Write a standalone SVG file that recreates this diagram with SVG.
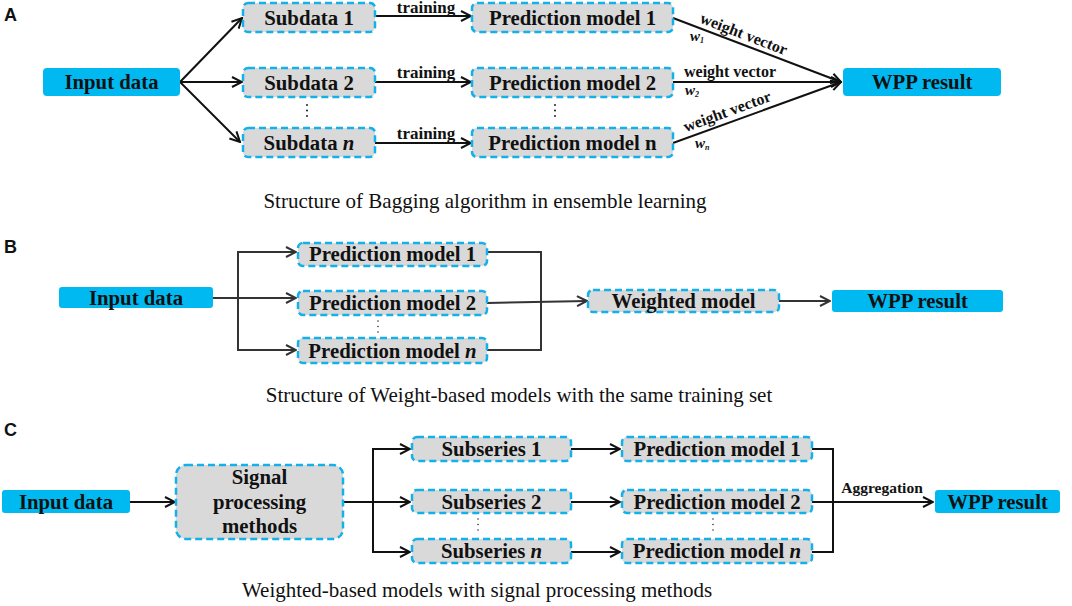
<svg xmlns="http://www.w3.org/2000/svg" width="1072" height="606" viewBox="0 0 1072 606">
<defs>
<style>
.bg{fill:#ffffff}
.blue{fill:#00B9F1}
.dash{fill:#D9D9D9;stroke:#12B1EA;stroke-width:2.5;stroke-dasharray:7 4}
.t{font-family:"Liberation Serif","Times New Roman",serif;font-weight:bold;font-size:20.8px;fill:#111;text-anchor:middle}
.lab{font-family:"Liberation Serif","Times New Roman",serif;font-weight:bold;font-size:16px;fill:#111;text-anchor:middle}
.w{font-family:"Liberation Serif","Times New Roman",serif;font-weight:bold;font-style:italic;font-size:15px;fill:#111}
.cap{font-family:"Liberation Serif","Times New Roman",serif;font-size:21px;fill:#111;text-anchor:middle}
.pl{font-family:"Liberation Sans",Arial,sans-serif;font-weight:bold;font-size:18px;fill:#111}
.ln{fill:none;stroke:#111;stroke-width:2}
.lnb{fill:none;stroke:#333;stroke-width:2}
.dot{fill:#333}
</style>
<marker id="ah" viewBox="0 0 12 12" refX="11" refY="6" markerWidth="12" markerHeight="12" markerUnits="userSpaceOnUse" orient="auto">
<path d="M1,1 L11,6 L1,11" fill="none" stroke="#111" stroke-width="2"/>
</marker>
<marker id="ahb" viewBox="0 0 12 12" refX="11" refY="6" markerWidth="12" markerHeight="12" markerUnits="userSpaceOnUse" orient="auto">
<path d="M1,1 L11,6 L1,11" fill="none" stroke="#333" stroke-width="2"/>
</marker>
</defs>
<rect class="bg" width="1072" height="606"/>

<!-- Panel labels -->
<text class="pl" x="4" y="21">A</text>
<text class="pl" x="4" y="253">B</text>
<text class="pl" x="4" y="436">C</text>

<!-- ===== Panel A ===== -->
<g id="connectors-a">
<line class="ln" x1="180" y1="82" x2="242" y2="18" marker-end="url(#ah)"/>
<line class="ln" x1="180" y1="82" x2="242" y2="82" marker-end="url(#ah)"/>
<line class="ln" x1="180" y1="82" x2="240" y2="142" marker-end="url(#ah)"/>
<line class="ln" x1="375" y1="16" x2="471" y2="16" marker-end="url(#ah)"/>
<line class="ln" x1="375" y1="82" x2="471" y2="82" marker-end="url(#ah)"/>
<line class="ln" x1="375" y1="143" x2="471" y2="143" marker-end="url(#ah)"/>
<line class="ln" x1="673" y1="18" x2="841" y2="82" marker-end="url(#ah)"/>
<line class="ln" x1="673" y1="82" x2="841" y2="82" marker-end="url(#ah)"/>
<line class="ln" x1="673" y1="143" x2="841" y2="82" marker-end="url(#ah)"/>
<text class="lab" x="426" y="13" style="font-size:17px">training</text>
<text class="lab" x="426" y="78" style="font-size:17px">training</text>
<text class="lab" x="426" y="139" style="font-size:17px">training</text>
<text class="lab" transform="rotate(21 740 43.7)" x="740" y="38.5">weight vector</text>
<text class="lab" x="730" y="77">weight vector</text>
<text class="lab" transform="rotate(-20.1 731 122)" x="731" y="116">weight vector</text>
<text class="w" x="690" y="41">w<tspan font-size="8" dy="2">1</tspan></text>
<text class="w" x="685" y="95">w<tspan font-size="8" dy="2">2</tspan></text>
<text class="w" x="695" y="148">w<tspan font-size="8" dy="2">n</tspan></text>
</g>

<g id="a-input"><rect class="blue" x="43" y="68" width="137" height="28" rx="4"/><text class="t" x="111.5" y="89">Input data</text></g>
<g id="a-sub1"><rect class="dash" x="243" y="3" width="132" height="29" rx="5"/><text class="t" x="309" y="24.5">Subdata 1</text></g>
<g id="a-sub2"><rect class="dash" x="243" y="68" width="132" height="29" rx="5"/><text class="t" x="309" y="89.5">Subdata 2</text></g>
<g id="a-subn"><rect class="dash" x="243" y="128" width="132" height="29" rx="5"/><text class="t" x="309" y="149.5">Subdata <tspan font-style="italic">n</tspan></text></g>
<g id="a-dots1"><circle class="dot" cx="307" cy="105" r="1.1"/><circle class="dot" cx="307" cy="110.5" r="1.1"/><circle class="dot" cx="307" cy="116" r="1.1"/></g>
<g id="a-pm1"><rect class="dash" x="472" y="3" width="201" height="29" rx="5"/><text class="t" x="572.5" y="24.5">Prediction model 1</text></g>
<g id="a-pm2"><rect class="dash" x="472" y="68" width="201" height="29" rx="5"/><text class="t" x="572.5" y="89.5">Prediction model 2</text></g>
<g id="a-pmn"><rect class="dash" x="472" y="128" width="201" height="29" rx="5"/><text class="t" x="572.5" y="149.5">Prediction model n</text></g>
<g id="a-dots2"><circle class="dot" cx="555" cy="105" r="1.1"/><circle class="dot" cx="555" cy="110.5" r="1.1"/><circle class="dot" cx="555" cy="116" r="1.1"/></g>
<g id="a-wpp"><rect class="blue" x="843" y="68" width="158" height="28" rx="4"/><text class="t" x="922" y="89">WPP result</text></g>
<text class="cap" x="485" y="208">Structure of Bagging algorithm in ensemble learning</text>

<!-- ===== Panel B ===== -->
<g id="connectors-b">
<line class="lnb" x1="213" y1="298" x2="296" y2="298" marker-end="url(#ahb)"/>
<polyline class="lnb" points="296,252 238,252 238,350 296,350"/>
<line class="lnb" x1="286" y1="252" x2="296" y2="252" marker-end="url(#ahb)"/>
<line class="lnb" x1="286" y1="350" x2="296" y2="350" marker-end="url(#ahb)"/>
<polyline class="lnb" points="487,252 541,252 541,350 487,350"/>
<line class="lnb" x1="487" y1="303" x2="587" y2="301" marker-end="url(#ahb)"/>
<line class="lnb" x1="779" y1="301" x2="830" y2="301" marker-end="url(#ahb)"/>
</g>
<g id="b-input"><rect class="blue" x="59" y="287" width="154" height="21" rx="3"/><text class="t" x="136" y="304.5">Input data</text></g>
<g id="b-pm1"><rect class="dash" x="298" y="243" width="189" height="23" rx="5"/><text class="t" x="392.5" y="261">Prediction model 1</text></g>
<g id="b-pm2"><rect class="dash" x="298" y="291" width="189" height="24" rx="5"/><text class="t" x="392.5" y="310">Prediction model 2</text></g>
<g id="b-pmn"><rect class="dash" x="298" y="338" width="189" height="25" rx="5"/><text class="t" x="392.5" y="357.5">Prediction model <tspan font-style="italic">n</tspan></text></g>
<g id="b-dots"><circle class="dot" cx="378" cy="321" r="0.8"/><circle class="dot" cx="378" cy="326.5" r="0.8"/><circle class="dot" cx="378" cy="332" r="0.8"/></g>
<g id="b-weighted"><rect class="dash" x="588" y="290" width="191" height="22" rx="5"/><text class="t" x="683.5" y="308">Weighted model</text></g>
<g id="b-wpp"><rect class="blue" x="832" y="290" width="171" height="22" rx="3"/><text class="t" x="917.5" y="308">WPP result</text></g>
<text class="cap" x="519" y="402">Structure of Weight-based models with the same training set</text>

<!-- ===== Panel C ===== -->
<g id="connectors-c">
<line class="ln" x1="130" y1="502" x2="175" y2="502" marker-end="url(#ah)"/>
<line class="ln" x1="343" y1="502" x2="410" y2="502" marker-end="url(#ah)"/>
<polyline class="ln" points="410,449 373,449 373,552 410,552"/>
<line class="ln" x1="400" y1="449" x2="410" y2="449" marker-end="url(#ah)"/>
<line class="ln" x1="400" y1="552" x2="410" y2="552" marker-end="url(#ah)"/>
<line class="ln" x1="571" y1="449" x2="620" y2="449" marker-end="url(#ah)"/>
<line class="ln" x1="571" y1="502" x2="620" y2="502" marker-end="url(#ah)"/>
<line class="ln" x1="571" y1="552" x2="620" y2="552" marker-end="url(#ah)"/>
<polyline class="ln" points="812,449 833,449 833,552 812,552"/>
<line class="ln" x1="812" y1="502" x2="933" y2="502" marker-end="url(#ah)"/>
<text class="lab" x="882" y="493" style="font-size:15.5px">Aggregation</text>
</g>
<g id="c-input"><rect class="blue" x="2" y="490" width="128" height="23" rx="3"/><text class="t" x="66" y="509">Input data</text></g>
<g id="c-signal"><rect class="dash" x="176" y="465" width="167" height="74" rx="10"/><text class="t" x="259.5" y="484">Signal</text><text class="t" x="259.5" y="509">processing</text><text class="t" x="259.5" y="533">methods</text></g>
<g id="c-sub1"><rect class="dash" x="412" y="437" width="159" height="24" rx="5"/><text class="t" x="491.5" y="456">Subseries 1</text></g>
<g id="c-sub2"><rect class="dash" x="412" y="490" width="159" height="23" rx="5"/><text class="t" x="491.5" y="509">Subseries 2</text></g>
<g id="c-subn"><rect class="dash" x="412" y="539" width="159" height="24" rx="5"/><text class="t" x="491.5" y="558">Subseries <tspan font-style="italic">n</tspan></text></g>
<g id="c-dots1"><circle class="dot" cx="478" cy="519" r="0.8"/><circle class="dot" cx="478" cy="524.5" r="0.8"/><circle class="dot" cx="478" cy="530" r="0.8"/></g>
<g id="c-pm1"><rect class="dash" x="622" y="437" width="190" height="24" rx="5"/><text class="t" x="717" y="456">Prediction model 1</text></g>
<g id="c-pm2"><rect class="dash" x="622" y="490" width="190" height="23" rx="5"/><text class="t" x="717" y="509">Prediction model 2</text></g>
<g id="c-pmn"><rect class="dash" x="622" y="539" width="190" height="24" rx="5"/><text class="t" x="717" y="558">Prediction model <tspan font-style="italic">n</tspan></text></g>
<g id="c-dots2"><circle class="dot" cx="713" cy="519" r="0.8"/><circle class="dot" cx="713" cy="524.5" r="0.8"/><circle class="dot" cx="713" cy="530" r="0.8"/></g>
<g id="c-wpp"><rect class="blue" x="935" y="490" width="125" height="23" rx="3"/><text class="t" x="997.5" y="509">WPP result</text></g>
<text class="cap" x="477" y="597">Weighted-based models with signal processing methods</text>
</svg>
